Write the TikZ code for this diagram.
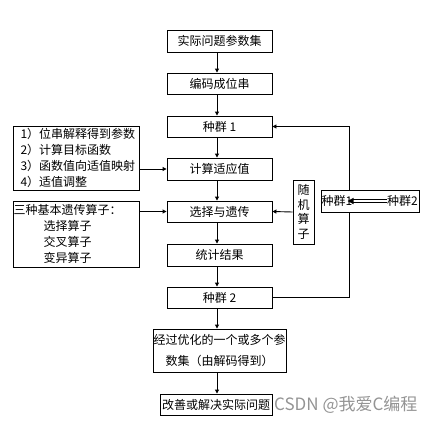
\documentclass[tikz,border=0pt]{standalone}
\usepackage{fontspec}
\setmainfont{Noto Sans CJK SC}
\usetikzlibrary{arrows.meta}
\begin{document}
\begin{tikzpicture}[x=1pt,y=-1pt,
  box/.style={draw, line width=0.9pt, fill=white, inner sep=0pt, font=\fontsize{12}{16}\selectfont},
  arr/.style={line width=0.9pt, -{Triangle[length=4pt,width=4pt]}},
  ln/.style={line width=0.9pt}]
\useasboundingbox (0,0) rectangle (431,423);
\node[box, minimum width=105, minimum height=22] (b1) at (219.5,41) {实际问题参数集};
\node[box, minimum width=105, minimum height=21] (b2) at (219.5,83.5) {编码成位串};
\node[box, minimum width=105, minimum height=21] (p1) at (219.5,126.5) {种群 1};
\node[box, minimum width=105, minimum height=22] (fit) at (219.5,169) {计算适应值};
\node[box, minimum width=105, minimum height=21] (sel) at (219.5,211.5) {选择与遗传};
\node[box, minimum width=105, minimum height=22] (stat) at (219.5,255) {统计结果};
\node[box, minimum width=105, minimum height=21] (p2) at (219.5,297.5) {种群 2};
\node[box, minimum width=133, minimum height=43, align=center, font=\fontsize{12}{21}\selectfont] (opt) at (219.5,350.5) {经过优化的一个或多个参\\数集（由解码得到）};
\node[box, minimum width=112, minimum height=21] (fin) at (216,404.5) {改善或解决实际问题};
% left boxes
\node[box, minimum width=126, minimum height=64, text width=125, align=left] (L1) at (76,158) {\hspace*{7pt}1）位串解释得到参数\\\hspace*{7pt}2）计算目标函数\\\hspace*{7pt}3）函数值向适值映射\\\hspace*{7pt}4）适值调整};
\node[box, minimum width=126, minimum height=66, text width=125, align=left] (L2) at (76,234) {三种基本遗传算子：\\\hspace*{30pt}选择算子\\\hspace*{30pt}交叉算子\\\hspace*{30pt}变异算子};
\node[box, minimum width=21, minimum height=64, align=center, font=\fontsize{12}{14.5}\selectfont] (R) at (303.5,212) {随\\机\\算\\子};
% main connectors
\draw[arr] ([xshift=-2.5pt]b1.south) -- ([xshift=-2.5pt]b2.north);
\draw[arr] ([xshift=-2.5pt]b2.south) -- ([xshift=-2.5pt]p1.north);
\draw[arr] ([xshift=-2.5pt]p1.south) -- ([xshift=-2.5pt]fit.north);
\draw[arr] ([xshift=-2.5pt]fit.south) -- ([xshift=-2.5pt]sel.north);
\draw[arr] ([xshift=-2.5pt]sel.south) -- ([xshift=-2.5pt]stat.north);
\draw[arr] ([xshift=-2.5pt]stat.south) -- ([xshift=-2.5pt]p2.north);
\draw[arr] ([xshift=-2.5pt]p2.south) -- ([xshift=-2.5pt]opt.north);
\draw[arr] ([xshift=-2.5pt]opt.south) -- ([xshift=1pt]fin.north);
\draw[arr] (L1.east |- fit.west) -- (fit.west);
\draw[arr] (L2.east |- sel.west) -- (sel.west);
\draw[arr] (R.west) -- (sel.east);
% loop back
\coordinate (loop) at (349,0);
\draw[arr] (p2.east) -| (loop |- p1.east) -- (p1.east);
% right box
\node[box, minimum width=98, minimum height=22] (RB) at (370,201) {};
\node[anchor=west, inner sep=0pt, font=\fontsize{12}{14}\selectfont] (t1) at (321.5,201) {种群1};
\node[anchor=east, inner sep=0pt, font=\fontsize{12}{14}\selectfont] (t2) at (418,201) {种群2};
\coordinate (tip) at ([xshift=-5pt]t1.east);
\draw[line width=0.8pt] ([yshift=-1.3pt]t2.west) -- ([yshift=-1.3pt,xshift=4pt]tip);
\draw[line width=0.8pt] ([yshift=1.3pt]t2.west) -- ([yshift=1.3pt,xshift=4pt]tip);
\fill (tip) -- ([xshift=6pt,yshift=-3.2pt]tip) -- ([xshift=6pt,yshift=3.2pt]tip) -- cycle;
% watermark
\node[anchor=west, inner sep=0pt, text=black!42, font=\fontsize{17}{17}\selectfont] (wm) at (274,405) {CSDN @我爱C编程};
\end{tikzpicture}
\end{document}
